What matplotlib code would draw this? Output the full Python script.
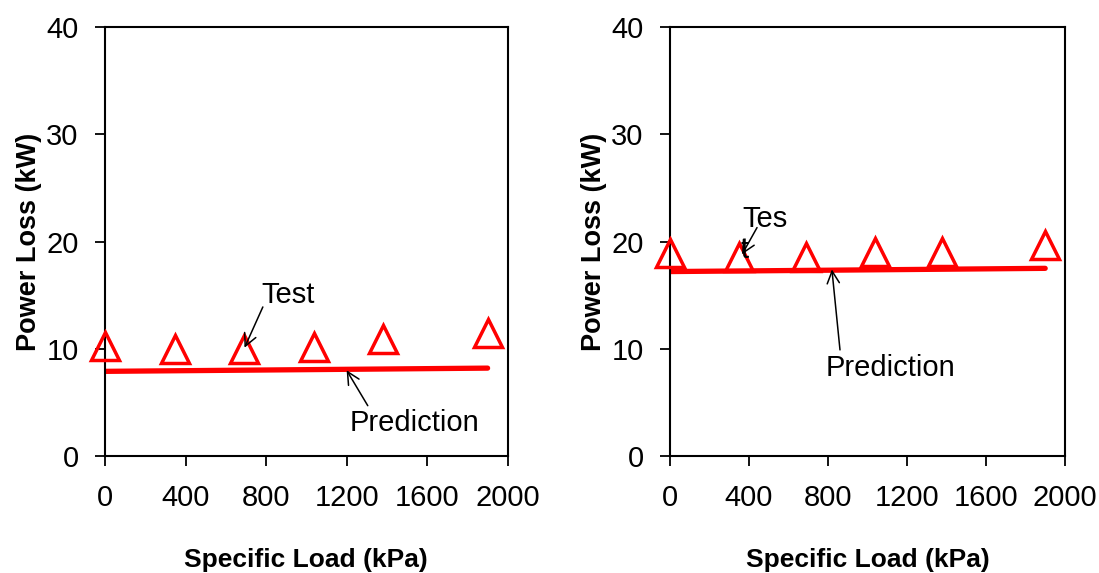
import matplotlib
matplotlib.use('Agg')
import matplotlib.pyplot as plt

plt.rcParams['font.family'] = ['Liberation Sans', 'DejaVu Sans']

# 数据
load_test = [0, 350, 690, 1040, 1380, 1900]
loss_test_a = [10.3, 10.0, 10.0, 10.2, 10.9, 11.5]
loss_test_b = [18.9, 18.6, 18.6, 19.0, 19.0, 19.7]

load_pred = [0, 1900]
loss_pred_a = [7.9, 8.2]
loss_pred_b = [17.2, 17.5]

xticks = [0, 400, 800, 1200, 1600, 2000]
yticks = [0, 10, 20, 30, 40]

fig = plt.figure(figsize=(10.99, 5.73), dpi=100)
ax1 = fig.add_axes([0.0955, 0.204, 0.3665, 0.749])
ax2 = fig.add_axes([0.6096, 0.204, 0.3594, 0.749])


def drawPanel(ax, ytest, ypred):
    ax.plot(load_pred, ypred, color='#ff0000', lw=3.8, solid_capstyle='round', zorder=2)
    ax.plot(load_test, ytest, ls='none', marker='^', ms=20, mfc='none',
            mec='#ff0000', mew=2.5, zorder=3, clip_on=False)
    ax.set_xlim(0, 2000)
    ax.set_ylim(0, 40)
    ax.set_xticks(xticks)
    ax.set_yticks(yticks)
    ax.tick_params(direction='out', length=7, width=1.3, labelsize=21, colors='black')
    ax.tick_params(axis='x', pad=13)
    ax.tick_params(axis='y', pad=12)
    for s in ax.spines.values():
        s.set_linewidth(1.5)
    ax.set_xlabel('Specific Load (kPa)', fontsize=19, fontweight='bold', labelpad=26)
    ax.set_ylabel('Power Loss (kW)', fontsize=19.5, fontweight='bold', labelpad=3)


drawPanel(ax1, loss_test_a, loss_pred_a)
drawPanel(ax2, loss_test_b, loss_pred_b)

arrow = dict(arrowstyle='->', color='black', lw=1.1, shrinkA=0, shrinkB=0,
             mutation_scale=22)

ax1.annotate('', xy=(693, 10.1), xytext=(784, 13.9), arrowprops=arrow)
ax1.text(779, 15.0, 'Test', fontsize=21, va='center', ha='left')
ax1.annotate('', xy=(1200, 8.0), xytext=(1305, 4.7), arrowprops=arrow)
ax1.text(1216, 3.1, 'Prediction', fontsize=21, va='center', ha='left')

ax2.annotate('', xy=(365, 18.8), xytext=(441, 21.3), arrowprops=arrow)
ax2.text(365, 22.1, 'Tes', fontsize=21, va='center', ha='left')
ax2.text(380, 19.2, 't', fontsize=21, va='center', ha='center')
ax2.annotate('', xy=(820, 17.4), xytext=(861, 9.9), arrowprops=arrow)
ax2.text(790, 8.2, 'Prediction', fontsize=21, va='center', ha='left')

plt.savefig('out.png', dpi=100)
